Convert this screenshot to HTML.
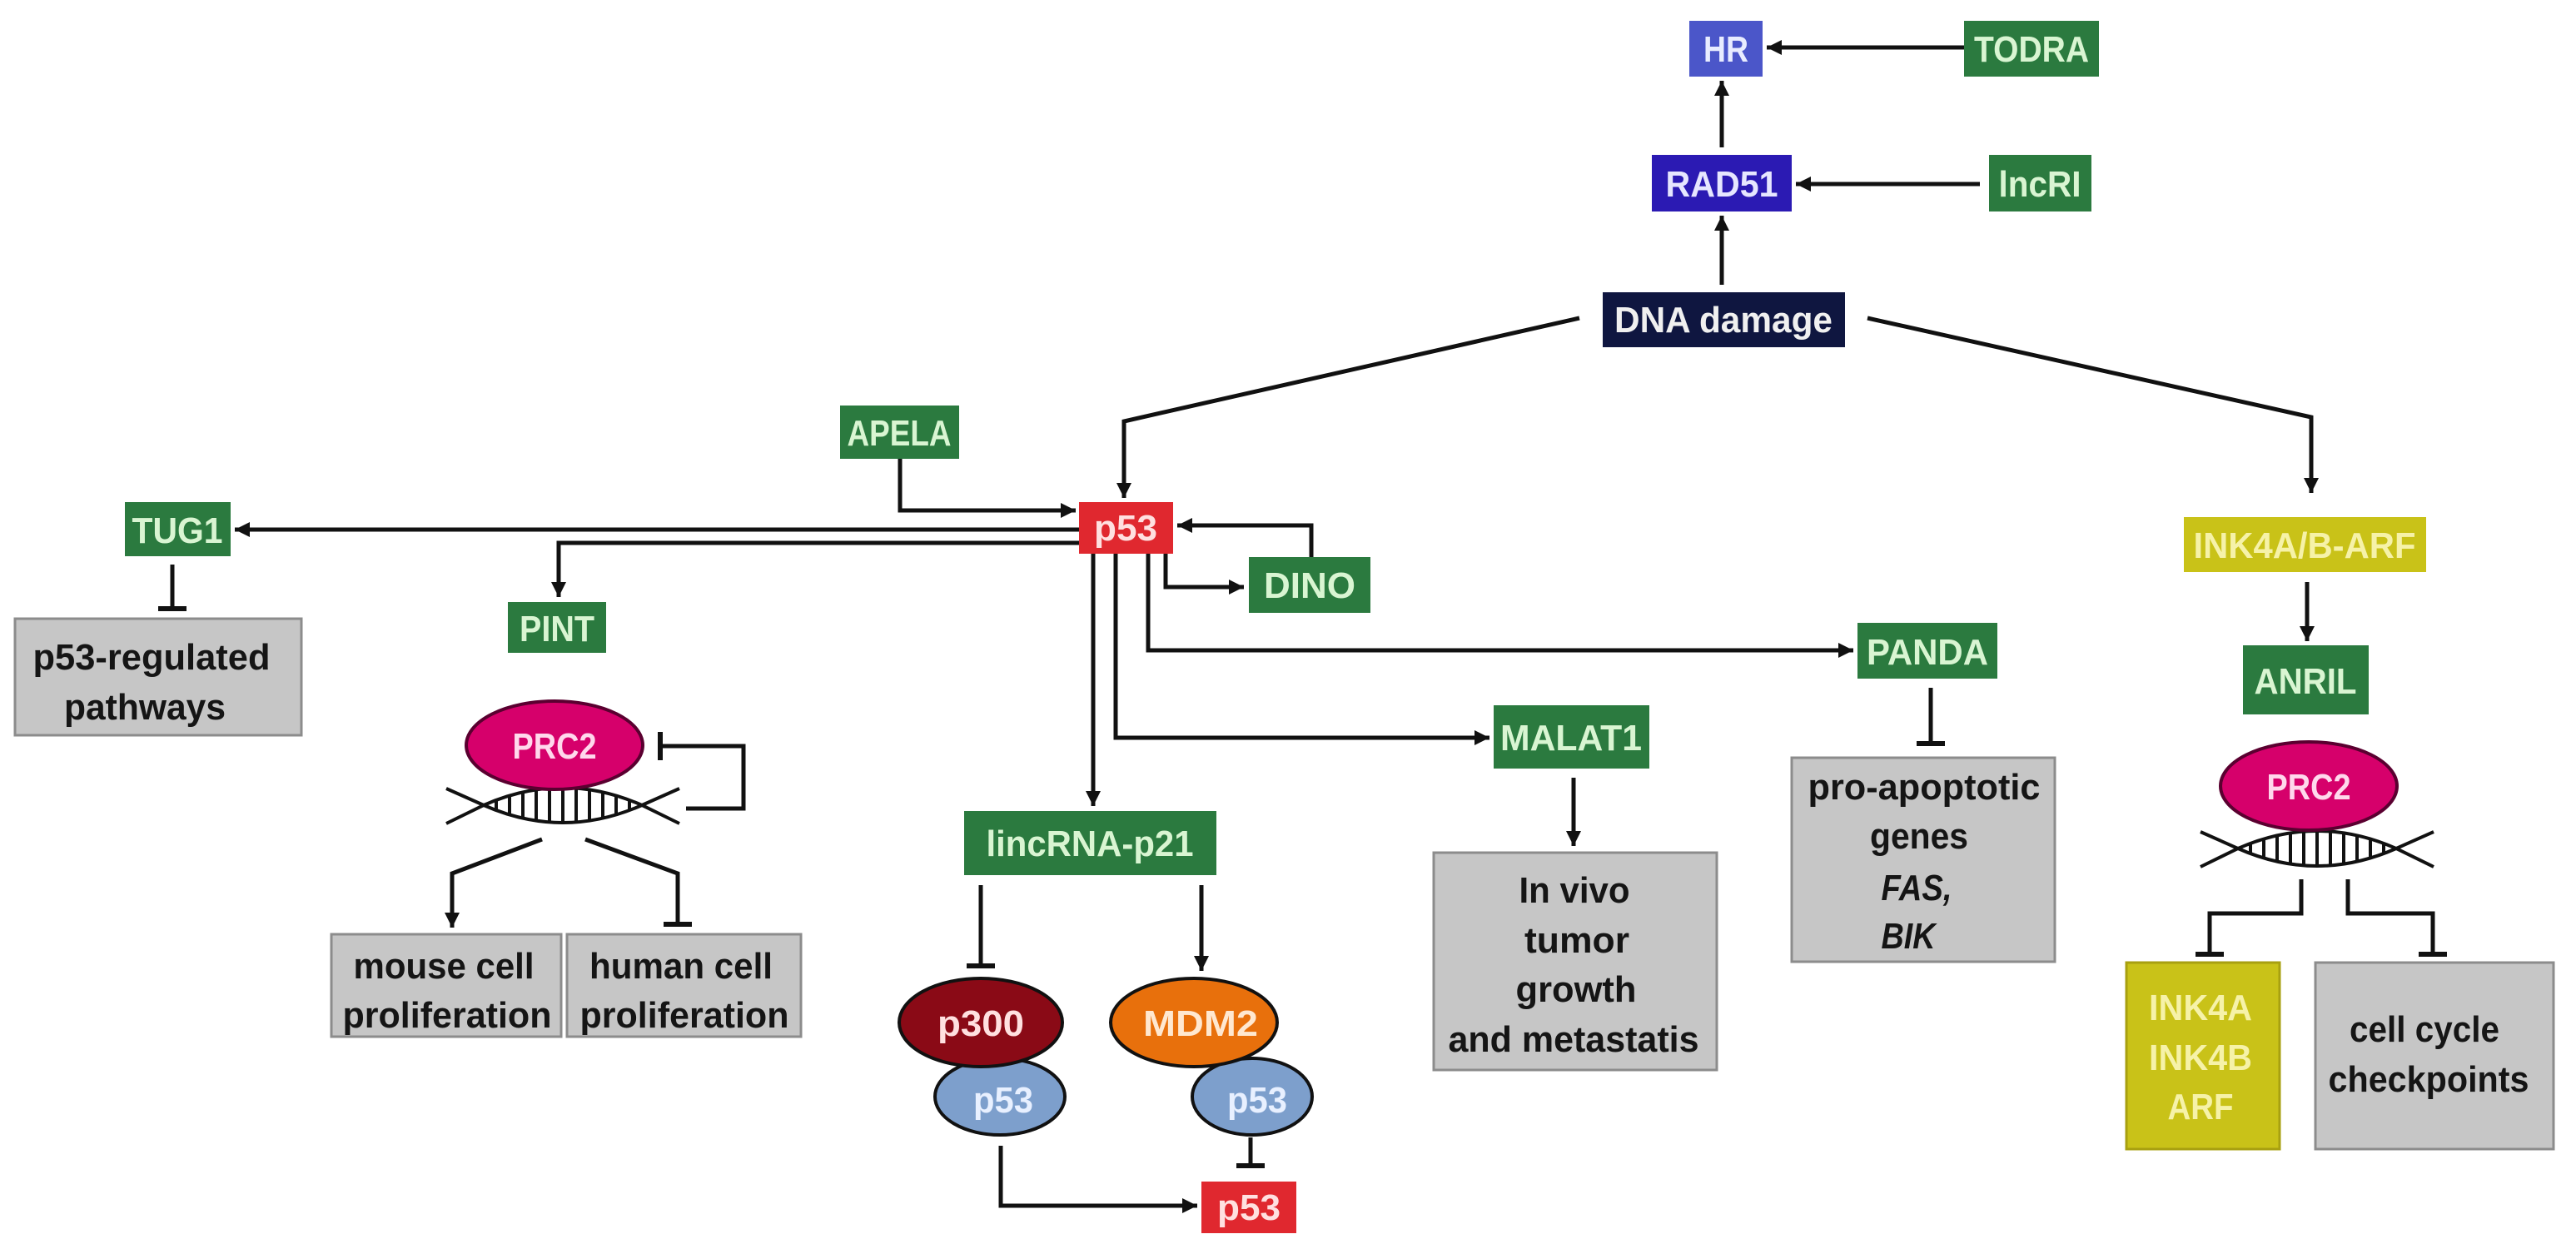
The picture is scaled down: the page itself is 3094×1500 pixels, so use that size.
<!DOCTYPE html>
<html><head><meta charset="utf-8"><style>
html,body{margin:0;padding:0;background:#fff;}
svg{display:block;}
text{font-family:"Liberation Sans",sans-serif;font-weight:bold;font-size:44px;text-anchor:middle;}
.g{fill:#2b7a3f;} .gt{fill:#d9f5d2;}
.gray{fill:#c6c6c6;stroke:#8c8c8c;stroke-width:3;}
.dk{fill:#151515;}
.ln{stroke:#111;stroke-width:5;fill:none;}
</style></head><body>
<svg width="3094" height="1500" viewBox="0 0 3094 1500" xmlns="http://www.w3.org/2000/svg">
<defs>
<marker id="a" markerUnits="userSpaceOnUse" markerWidth="22" markerHeight="22" refX="18" refY="9" orient="auto"><path d="M0,0 L18,9 L0,18 z" fill="#111"/></marker>
<marker id="t" markerUnits="userSpaceOnUse" markerWidth="8" markerHeight="34" refX="3" refY="17" orient="auto"><rect x="0" y="0" width="6" height="34" fill="#111"/></marker>
<g id="helix">
<path d="M-140,-20 L-95,0 Q0,-42 95,0 L140,22" fill="none" stroke="#111" stroke-width="4"/>
<path d="M-140,22 L-95,0 Q0,42 95,0 L140,-20" fill="none" stroke="#111" stroke-width="4"/>
<g stroke="#111" stroke-width="4">
<line x1="-80" y1="-6" x2="-80" y2="6"/><line x1="-64" y1="-11.5" x2="-64" y2="11.5"/>
<line x1="-48" y1="-15.6" x2="-48" y2="15.6"/><line x1="-32" y1="-18.6" x2="-32" y2="18.6"/>
<line x1="-16" y1="-20.4" x2="-16" y2="20.4"/><line x1="0" y1="-21" x2="0" y2="21"/>
<line x1="16" y1="-20.4" x2="16" y2="20.4"/><line x1="32" y1="-18.6" x2="32" y2="18.6"/>
<line x1="48" y1="-15.6" x2="48" y2="15.6"/><line x1="64" y1="-11.5" x2="64" y2="11.5"/>
<line x1="80" y1="-6" x2="80" y2="6"/>
</g>
</g>
</defs>

<g class="ln">
<line x1="2359" y1="57" x2="2122" y2="57" marker-end="url(#a)"/>
<line x1="2378" y1="221" x2="2157" y2="221" marker-end="url(#a)"/>
<line x1="2068" y1="177" x2="2068" y2="97" marker-end="url(#a)"/>
<line x1="2068" y1="342" x2="2068" y2="259" marker-end="url(#a)"/>
<polyline points="1897,382 1350,506 1350,598" marker-end="url(#a)"/>
<polyline points="2243,382 2776,501 2776,592" marker-end="url(#a)"/>
<polyline points="1081,551 1081,613 1292,613" marker-end="url(#a)"/>
<line x1="1296" y1="636" x2="282" y2="636" marker-end="url(#a)"/>
<polyline points="1296,652 671,652 671,717" marker-end="url(#a)"/>
<polyline points="1575,669 1575,631 1414,631" marker-end="url(#a)"/>
<polyline points="1400,665 1400,705 1494,705" marker-end="url(#a)"/>
<polyline points="1379,665 1379,781 2226,781" marker-end="url(#a)"/>
<polyline points="1340,665 1340,886 1789,886" marker-end="url(#a)"/>
<line x1="1313" y1="665" x2="1313" y2="968" marker-end="url(#a)"/>
<line x1="207" y1="678" x2="207" y2="731" marker-end="url(#t)"/>
<polyline points="824,971 893,971 893,896 793,896" marker-end="url(#t)"/>
<polyline points="651,1008 543,1049 543,1114" marker-end="url(#a)"/>
<polyline points="703,1008 814,1049 814,1110" marker-end="url(#t)"/>
<line x1="1178" y1="1063" x2="1178" y2="1160" marker-end="url(#t)"/>
<line x1="1443" y1="1063" x2="1443" y2="1166" marker-end="url(#a)"/>
<line x1="1502" y1="1366" x2="1502" y2="1400" marker-end="url(#t)"/>
<polyline points="1202,1376 1202,1448 1438,1448" marker-end="url(#a)"/>
<line x1="1890" y1="934" x2="1890" y2="1016" marker-end="url(#a)"/>
<line x1="2319" y1="826" x2="2319" y2="893" marker-end="url(#t)"/>
<line x1="2771" y1="699" x2="2771" y2="770" marker-end="url(#a)"/>
<polyline points="2764,1056 2764,1097 2654,1097 2654,1146" marker-end="url(#t)"/>
<polyline points="2820,1056 2820,1097 2922,1097 2922,1146" marker-end="url(#t)"/>
</g>

<rect x="2029" y="25" width="88" height="67" fill="#4b56c9"/>
<text x="2073" y="74" fill="#e8ecff" textLength="54" lengthAdjust="spacingAndGlyphs">HR</text>
<rect x="2359" y="25" width="162" height="67" class="g"/>
<text x="2440" y="74" class="gt" textLength="138" lengthAdjust="spacingAndGlyphs">TODRA</text>
<rect x="1984" y="186" width="168" height="68" fill="#2b1ab3"/>
<text x="2068" y="236" fill="#e6e6ff" textLength="135" lengthAdjust="spacingAndGlyphs">RAD51</text>
<rect x="2389" y="186" width="123" height="68" class="g"/>
<text x="2450" y="236" class="gt" textLength="99" lengthAdjust="spacingAndGlyphs">lncRI</text>
<rect x="1925" y="351" width="291" height="66" fill="#0f1640"/>
<text x="2070" y="399" fill="#f0f0f0" textLength="262" lengthAdjust="spacingAndGlyphs">DNA damage</text>

<rect x="1009" y="487" width="143" height="64" class="g"/>
<text x="1080" y="535" class="gt" textLength="125" lengthAdjust="spacingAndGlyphs">APELA</text>
<rect x="1296" y="603" width="113" height="62" fill="#e0282f"/>
<text x="1352" y="649" fill="#ffe0e0" textLength="76" lengthAdjust="spacingAndGlyphs">p53</text>
<rect x="150" y="603" width="127" height="65" class="g"/>
<text x="213" y="652" class="gt" textLength="109" lengthAdjust="spacingAndGlyphs">TUG1</text>
<rect x="1500" y="669" width="146" height="67" class="g"/>
<text x="1573" y="718" class="gt" textLength="110" lengthAdjust="spacingAndGlyphs">DINO</text>
<rect x="610" y="723" width="118" height="61" class="g"/>
<text x="669" y="770" class="gt" textLength="90" lengthAdjust="spacingAndGlyphs">PINT</text>
<rect x="2231" y="748" width="168" height="67" class="g"/>
<text x="2315" y="798" class="gt" textLength="146" lengthAdjust="spacingAndGlyphs">PANDA</text>
<rect x="2623" y="621" width="291" height="66" fill="#c9c218"/>
<text x="2768" y="670" fill="#f6f2a8" textLength="267" lengthAdjust="spacingAndGlyphs">INK4A/B-ARF</text>
<rect x="2694" y="775" width="151" height="83" class="g"/>
<text x="2769" y="833" class="gt" textLength="123" lengthAdjust="spacingAndGlyphs">ANRIL</text>
<rect x="1794" y="847" width="187" height="76" class="g"/>
<text x="1887" y="901" class="gt" textLength="170" lengthAdjust="spacingAndGlyphs">MALAT1</text>
<rect x="1158" y="974" width="303" height="77" class="g"/>
<text x="1309" y="1028" class="gt" textLength="249" lengthAdjust="spacingAndGlyphs">lincRNA-p21</text>
<rect x="1443" y="1419" width="114" height="62" fill="#e0282f"/>
<text x="1500" y="1465" fill="#ffe0e0" textLength="76" lengthAdjust="spacingAndGlyphs">p53</text>

<rect x="18" y="743" width="344" height="140" class="gray"/>
<text x="182" y="804" class="dk" textLength="285" lengthAdjust="spacingAndGlyphs">p53-regulated</text>
<text x="174" y="864" class="dk" textLength="194" lengthAdjust="spacingAndGlyphs">pathways</text>
<rect x="398" y="1122" width="276" height="123" class="gray"/>
<text x="533" y="1175" class="dk" textLength="217" lengthAdjust="spacingAndGlyphs">mouse cell</text>
<text x="537" y="1234" class="dk" textLength="251" lengthAdjust="spacingAndGlyphs">proliferation</text>
<rect x="681" y="1122" width="281" height="123" class="gray"/>
<text x="818" y="1175" class="dk" textLength="220" lengthAdjust="spacingAndGlyphs">human cell</text>
<text x="822" y="1234" class="dk" textLength="251" lengthAdjust="spacingAndGlyphs">proliferation</text>
<rect x="1722" y="1024" width="340" height="261" class="gray"/>
<text x="1891" y="1084" class="dk" textLength="133" lengthAdjust="spacingAndGlyphs">In vivo</text>
<text x="1894" y="1144" class="dk" textLength="126" lengthAdjust="spacingAndGlyphs">tumor</text>
<text x="1893" y="1203" class="dk" textLength="145" lengthAdjust="spacingAndGlyphs">growth</text>
<text x="1890" y="1263" class="dk" textLength="301" lengthAdjust="spacingAndGlyphs">and metastatis</text>
<rect x="2152" y="910" width="316" height="245" class="gray"/>
<text x="2311" y="960" class="dk" textLength="279" lengthAdjust="spacingAndGlyphs">pro-apoptotic</text>
<text x="2305" y="1019" class="dk" textLength="118" lengthAdjust="spacingAndGlyphs">genes</text>
<text x="2302" y="1081" class="dk" font-style="italic" textLength="85" lengthAdjust="spacingAndGlyphs">FAS,</text>
<text x="2292" y="1139" class="dk" font-style="italic" textLength="65" lengthAdjust="spacingAndGlyphs">BIK</text>
<rect x="2554" y="1156" width="184" height="224" fill="#c9c218" stroke="#a8a010" stroke-width="3"/>
<text x="2643" y="1225" fill="#f6f2a8" textLength="124" lengthAdjust="spacingAndGlyphs">INK4A</text>
<text x="2643" y="1285" fill="#f6f2a8" textLength="124" lengthAdjust="spacingAndGlyphs">INK4B</text>
<text x="2643" y="1344" fill="#f6f2a8" textLength="79" lengthAdjust="spacingAndGlyphs">ARF</text>
<rect x="2781" y="1156" width="286" height="224" class="gray"/>
<text x="2912" y="1251" class="dk" textLength="180" lengthAdjust="spacingAndGlyphs">cell cycle</text>
<text x="2917" y="1311" class="dk" textLength="241" lengthAdjust="spacingAndGlyphs">checkpoints</text>

<use href="#helix" transform="translate(676,967)"/>
<ellipse cx="666" cy="895" rx="106" ry="53" fill="#d6006b" stroke="#5a0030" stroke-width="4"/>
<text x="666" y="911" fill="#ffd8ec" textLength="101" lengthAdjust="spacingAndGlyphs">PRC2</text>
<use href="#helix" transform="translate(2783,1019)"/>
<ellipse cx="2773" cy="944" rx="106" ry="53" fill="#d6006b" stroke="#5a0030" stroke-width="4"/>
<text x="2773" y="960" fill="#ffd8ec" textLength="101" lengthAdjust="spacingAndGlyphs">PRC2</text>

<ellipse cx="1201" cy="1317" rx="78" ry="46" fill="#7d9fcc" stroke="#111" stroke-width="4"/>
<text x="1205" y="1336" fill="#e8f0ff" textLength="72" lengthAdjust="spacingAndGlyphs">p53</text>
<ellipse cx="1178" cy="1228" rx="98" ry="53" fill="#8a0a16" stroke="#111" stroke-width="4"/>
<text x="1178" y="1244" fill="#ffe0e0" textLength="104" lengthAdjust="spacingAndGlyphs">p300</text>
<ellipse cx="1504" cy="1317" rx="72" ry="46" fill="#7d9fcc" stroke="#111" stroke-width="4"/>
<text x="1510" y="1336" fill="#e8f0ff" textLength="72" lengthAdjust="spacingAndGlyphs">p53</text>
<ellipse cx="1434" cy="1228" rx="100" ry="53" fill="#e8700c" stroke="#111" stroke-width="4"/>
<text x="1442" y="1244" fill="#ffe8d0" textLength="138" lengthAdjust="spacingAndGlyphs">MDM2</text>
</svg>
</body></html>
